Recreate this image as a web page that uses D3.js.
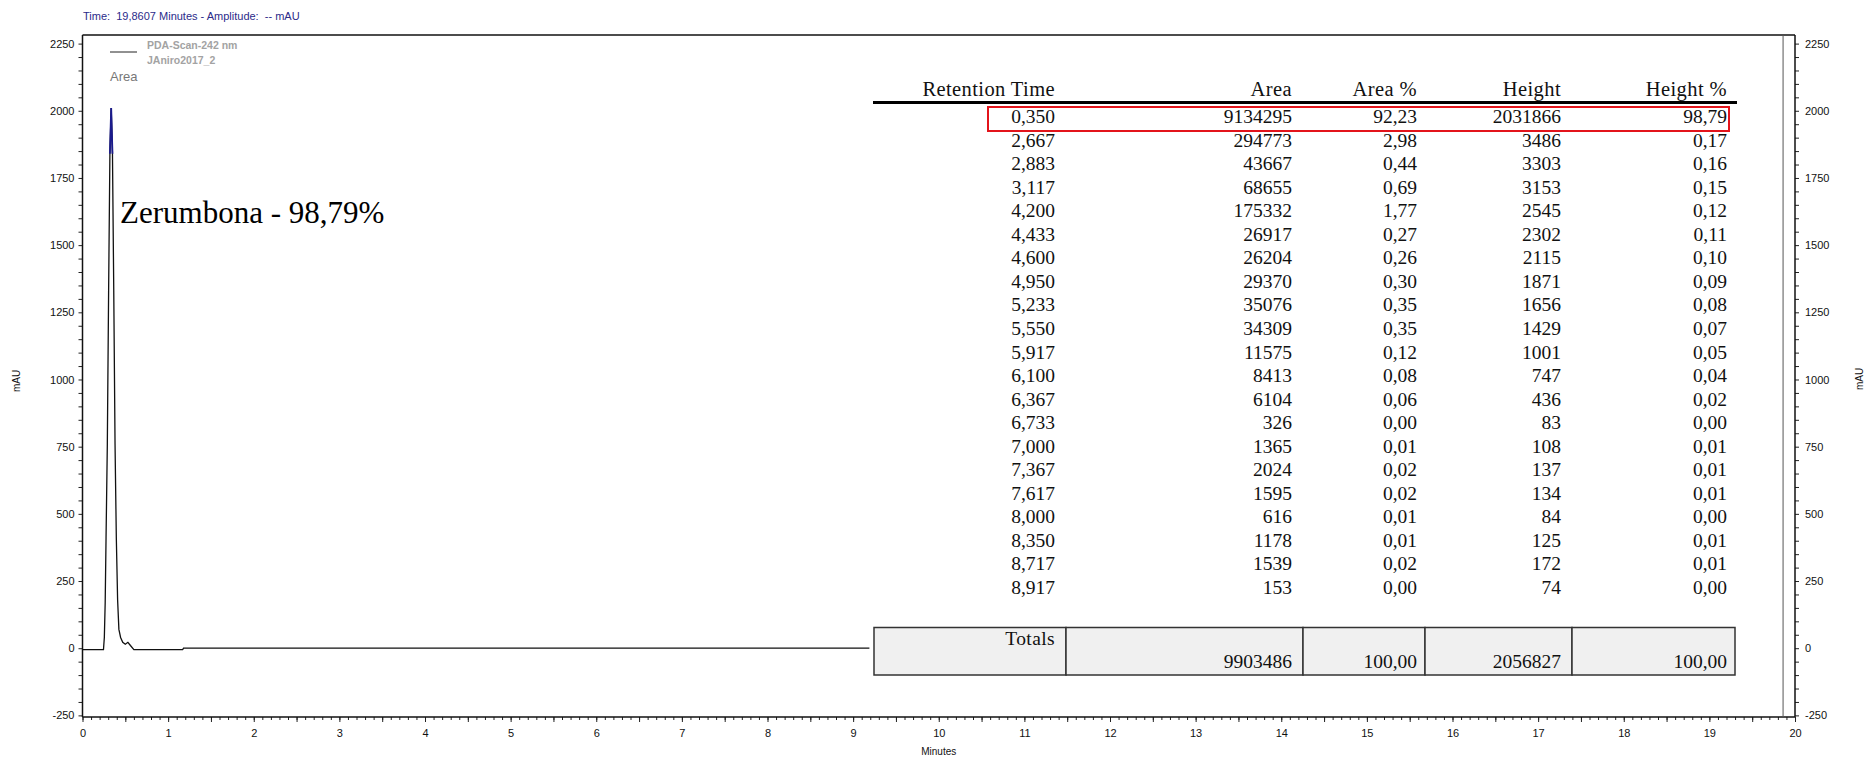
<!DOCTYPE html>
<html>
<head>
<meta charset="utf-8">
<script src="https://cdn.jsdelivr.net/npm/d3@7"></script>
<style>
  body { margin: 0; background: #fff; }
  text { font-family: "Liberation Sans", Arial, sans-serif; }
  text.serif, .serif text { font-family: "Liberation Serif", "Times New Roman", serif; }
</style>
</head>
<body>
<div id="chart"></div>
<script>
// chromatogram trace (minutes, mAU)
var traceTime = [0, 0.245, 0.255, 0.265, 0.275, 0.29, 0.305, 0.32, 0.335, 0.35, 0.365, 0.38, 0.395, 0.41, 0.425, 0.445, 0.47, 0.50, 0.53, 0.56, 0.60, 1.17, 1.18, 9.19];
var traceMAU  = [-5, -5, 40, 170, 410, 760, 1330, 1840, 2010, 1840, 1330, 760, 410, 180, 70, 40, 22, 15, 22, 10, -5, -5, 0, 0];

// peak table
var retentionTime = ["0,350","2,667","2,883","3,117","4,200","4,433","4,600","4,950","5,233","5,550","5,917","6,100","6,367","6,733","7,000","7,367","7,617","8,000","8,350","8,717","8,917"];
var area = ["9134295","294773","43667","68655","175332","26917","26204","29370","35076","34309","11575","8413","6104","326","1365","2024","1595","616","1178","1539","153"];
var areaPct = ["92,23","2,98","0,44","0,69","1,77","0,27","0,26","0,30","0,35","0,35","0,12","0,08","0,06","0,00","0,01","0,02","0,02","0,01","0,01","0,02","0,00"];
var peakHeight = ["2031866","3486","3303","3153","2545","2302","2115","1871","1656","1429","1001","747","436","83","108","137","134","84","125","172","74"];
var heightPct = ["98,79","0,17","0,16","0,15","0,12","0,11","0,10","0,09","0,08","0,07","0,05","0,04","0,02","0,00","0,01","0,01","0,01","0,00","0,01","0,01","0,00"];
var headers = ["Retention Time", "Area", "Area %", "Height", "Height %"];
var totals = ["9903486", "100,00", "2056827", "100,00"];

var cursorTime = 19.8607;

var W = 1867, H = 757;

var svg = d3.select("#chart")
  .append("svg")
    .attr("width", W)
    .attr("height", H);

var x = d3.scaleLinear().domain([0, 20]).range([82.5, 1795]);
var y = d3.scaleLinear().domain([-256, 2282]).range([717, 35]);

// title
svg.append("text")
  .attr("x", 83).attr("y", 20)
  .attr("font-size", "11px")
  .attr("fill", "#2b2b8a")
  .attr("xml:space", "preserve")
  .text("Time:  19,8607 Minutes - Amplitude:  -- mAU");

// y axes
var yTicks = d3.range(-250, 2251, 50);
var yFmt = function(d){ return d % 250 === 0 ? d : ""; };

var yl = svg.append("g")
  .attr("transform", "translate(" + x(0) + ",0)")
  .call(d3.axisLeft(y).tickValues(yTicks).tickFormat(yFmt).tickSize(4).tickPadding(4));
var yr = svg.append("g")
  .attr("transform", "translate(" + x(20) + ",0)")
  .call(d3.axisRight(y).tickValues(yTicks).tickFormat(yFmt).tickSize(4).tickPadding(6));

// x axis: minor and major ticks
var xMinor = svg.append("g")
  .attr("transform", "translate(0," + y.range()[0] + ")")
  .call(d3.axisBottom(x).tickValues(d3.range(0, 201).map(d => d / 10)).tickFormat("").tickSize(3));
var xMajor = svg.append("g")
  .attr("transform", "translate(0," + y.range()[0] + ")")
  .call(d3.axisBottom(x).tickValues(d3.range(0, 41).map(d => d / 2))
    .tickFormat(d => Number.isInteger(d) ? d : "").tickSize(5).tickPadding(7));

[yl, yr, xMinor, xMajor].forEach(function(g){
  g.select(".domain").remove();
  g.selectAll("text").attr("font-family", "Liberation Sans, Arial, sans-serif").attr("font-size", "11px").attr("fill", "#111");
  g.selectAll("line").attr("stroke", "#222");
});

// axis titles
svg.append("text")
  .attr("transform", "translate(20,381) rotate(-90)")
  .attr("text-anchor", "middle").attr("font-size", "10px").attr("fill", "#111")
  .text("mAU");
svg.append("text")
  .attr("transform", "translate(1863,379) rotate(-90)")
  .attr("text-anchor", "middle").attr("font-size", "10px").attr("fill", "#111")
  .text("mAU");
svg.append("text")
  .attr("x", x(10)).attr("y", 755)
  .attr("text-anchor", "middle").attr("font-size", "10px").attr("fill", "#111")
  .text("Minutes");

// frame
var frame = svg.append("g").attr("stroke", "#111").attr("stroke-width", 1.5);
frame.append("line").attr("x1", x(0)).attr("x2", x(0)).attr("y1", y.range()[1]).attr("y2", y.range()[0]);
frame.append("line").attr("x1", x(20)).attr("x2", x(20)).attr("y1", y.range()[1]).attr("y2", y.range()[0]);
frame.append("line").attr("x1", x(0)).attr("x2", x(20)).attr("y1", y.range()[1]).attr("y2", y.range()[1]);
frame.append("line").attr("x1", x(0)).attr("x2", x(20)).attr("y1", y.range()[0]).attr("y2", y.range()[0]);

// cursor line
svg.append("line")
  .attr("x1", x(cursorTime)).attr("x2", x(cursorTime))
  .attr("y1", y.range()[1]).attr("y2", y.range()[0])
  .attr("stroke", "#555").attr("stroke-width", 1);

// legend
svg.append("line").attr("x1", 110).attr("x2", 137).attr("y1", 52).attr("y2", 52)
  .attr("stroke", "#222").attr("stroke-width", 1);
svg.append("text").attr("x", 147).attr("y", 49)
  .attr("font-size", "10.5px").attr("font-weight", "bold").attr("fill", "#a3a3a3")
  .text("PDA-Scan-242 nm");
svg.append("text").attr("x", 147).attr("y", 64)
  .attr("font-size", "10.5px").attr("font-weight", "bold").attr("fill", "#a3a3a3")
  .text("JAniro2017_2");
svg.append("text").attr("x", 110).attr("y", 81)
  .attr("font-size", "13px").attr("fill", "#777")
  .text("Area");

// trace
var trace = traceTime.map(function(t, i){ return {t: t, v: traceMAU[i]}; });
var line = d3.line().x(d => x(d.t)).y(d => y(d.v));

svg.append("path")
  .datum(trace)
  .attr("d", line)
  .attr("fill", "none")
  .attr("stroke", "#111")
  .attr("stroke-width", 1.3);

// highlighted peak apex
svg.append("path")
  .datum(trace.filter(d => d.v >= 1830))
  .attr("d", line)
  .attr("fill", "none")
  .attr("stroke", "#1a1a8c")
  .attr("stroke-width", 1.8);

// peak annotation
svg.append("text")
  .attr("class", "serif")
  .attr("x", 120).attr("y", 223)
  .attr("font-size", "31px").attr("fill", "#000")
  .text("Zerumbona - 98,79%");

// ---- results table ----
var colRight = [1055, 1292, 1417, 1561, 1727];
var columns = [retentionTime, area, areaPct, peakHeight, heightPct];
var rowY = d3.scaleLinear().domain([0, retentionTime.length - 1]).range([123, 594]);
var tbl = svg.append("g").attr("class", "serif");

tbl.selectAll(".hdr")
  .data(headers)
  .enter()
  .append("text")
    .attr("x", (d, i) => colRight[i])
    .attr("y", 96)
    .attr("text-anchor", "end")
    .attr("font-size", "20.5px")
    .attr("letter-spacing", "0.4px")
    .attr("fill", "#111")
    .text(d => d);

tbl.append("line")
  .attr("x1", 873).attr("x2", 1737).attr("y1", 102.5).attr("y2", 102.5)
  .attr("stroke", "#000").attr("stroke-width", 3);

columns.forEach(function(col, c){
  tbl.selectAll(".c" + c)
    .data(col)
    .enter()
    .append("text")
      .attr("x", colRight[c])
      .attr("y", (d, i) => rowY(i))
      .attr("text-anchor", "end")
      .attr("font-size", "19.5px")
      .attr("fill", "#111")
      .text(d => d);
});

// red highlight around first row
svg.append("rect")
  .attr("x", 988).attr("y", rowY(0) - 16)
  .attr("width", 1729 - 988).attr("height", 24)
  .attr("fill", "none")
  .attr("stroke", "#e3141b")
  .attr("stroke-width", 2);

// totals box
var cellEdges = [874, 1066, 1303, 1425, 1572, 1735];
var totTop = 627.5, totBottom = 675;
tbl.selectAll(".tcell")
  .data(d3.range(cellEdges.length - 1))
  .enter()
  .append("rect")
    .attr("x", i => cellEdges[i])
    .attr("y", totTop)
    .attr("width", i => cellEdges[i + 1] - cellEdges[i])
    .attr("height", totBottom - totTop)
    .attr("fill", "#f0f0f0")
    .attr("stroke", "#333")
    .attr("stroke-width", 1.5);

tbl.append("text")
  .attr("x", colRight[0]).attr("y", 645)
  .attr("text-anchor", "end").attr("font-size", "19.5px").attr("letter-spacing", "0.4px").attr("fill", "#111")
  .text("Totals");

tbl.selectAll(".tot")
  .data(totals)
  .enter()
  .append("text")
    .attr("x", (d, i) => colRight[i + 1])
    .attr("y", 668)
    .attr("text-anchor", "end")
    .attr("font-size", "19.5px")
    .attr("fill", "#111")
    .text(d => d);
</script>
</body>
</html>
